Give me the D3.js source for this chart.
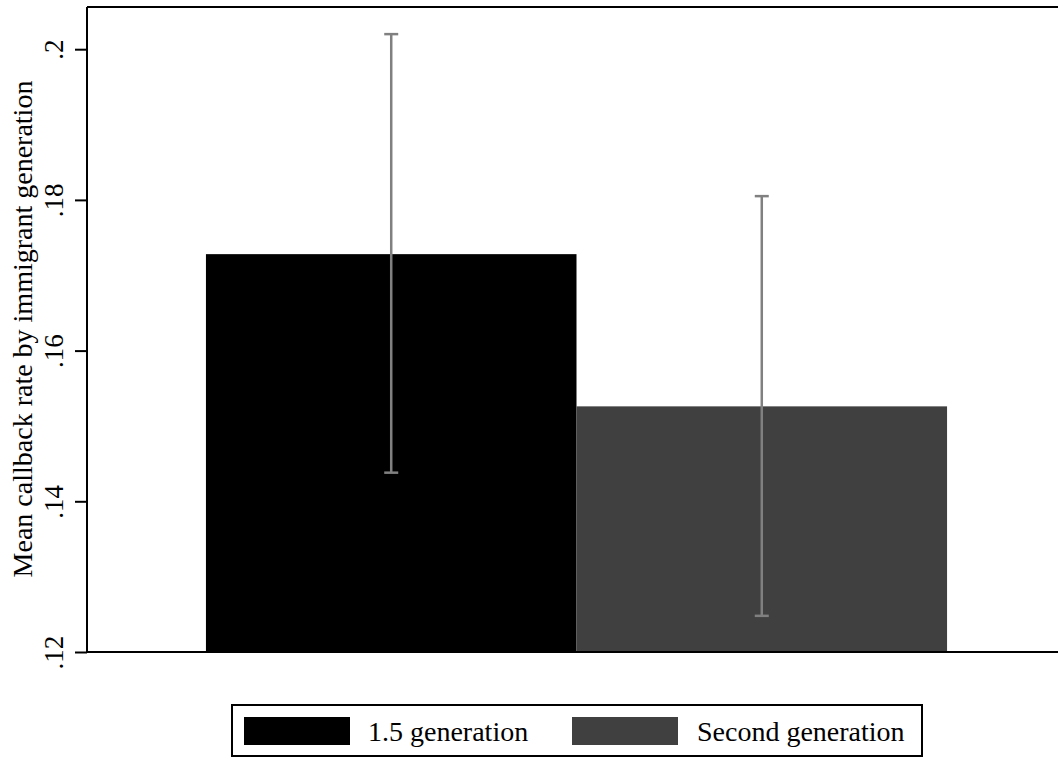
<!DOCTYPE html>
<html><head><meta charset="utf-8">
<script src="https://cdn.jsdelivr.net/npm/d3@7"></script>
<style>body{margin:0;background:#fff}svg{display:block}text{font-family:"Liberation Serif","Times New Roman",serif}</style>
</head><body>
<svg id="c" width="1058" height="758"></svg>
<script>
const categories = ["1.5 generation", "Second generation"];
const means = [0.1728, 0.1526];
const ciLow = [0.1438, 0.1248];
const ciHigh = [0.2020, 0.1805];
const colors = ["#000000", "#404040"];
const yTicks = [0.12, 0.14, 0.16, 0.18, 0.2];
const yTickLabels = [".12", ".14", ".16", ".18", ".2"];
const yLabel = "Mean callback rate by immigrant generation";

const svg = d3.select("#c");
const L = 87, R = 1066, T = 7, B = 652;
const x = d3.scaleBand().domain(categories).range([L, R]).paddingInner(0).paddingOuter(0.321);
const y = d3.scaleLinear().domain([0.12, 0.2056]).range([B, T]);

svg.selectAll("rect.bar").data(categories).join("rect")
  .attr("x", d => x(d)).attr("width", x.bandwidth())
  .attr("y", (d, i) => y(means[i])).attr("height", (d, i) => B - y(means[i]))
  .attr("fill", (d, i) => colors[i]);

// error bars
const eb = svg.append("g").attr("stroke", "#808080").attr("stroke-width", 2.5);
categories.forEach((c, i) => {
  const cx = x(c) + x.bandwidth() / 2;
  eb.append("line").attr("x1", cx).attr("x2", cx).attr("y1", y(ciLow[i])).attr("y2", y(ciHigh[i]));
  eb.append("line").attr("x1", cx - 7).attr("x2", cx + 7).attr("y1", y(ciLow[i])).attr("y2", y(ciLow[i]));
  eb.append("line").attr("x1", cx - 7).attr("x2", cx + 7).attr("y1", y(ciHigh[i])).attr("y2", y(ciHigh[i]));
});

// frame
svg.append("line").attr("x1", L).attr("x2", 1058).attr("y1", T).attr("y2", T).attr("stroke", "#000").attr("stroke-width", 2);
svg.append("line").attr("x1", L).attr("x2", 1058).attr("y1", B).attr("y2", B).attr("stroke", "#000").attr("stroke-width", 2);

// y axis
const yAxis = d3.axisLeft(y).tickValues(yTicks).tickFormat((d, i) => yTickLabels[i]).tickSize(12).tickSizeOuter(0);
const ga = svg.append("g").attr("transform", `translate(${L},0)`).call(yAxis);
ga.attr("font-family", null).attr("font-size", null);
ga.select(".domain").attr("stroke", "#000").attr("stroke-width", 2).attr("d", `M0,${T}V${B}`);
ga.selectAll(".tick line").attr("stroke", "#000").attr("stroke-width", 2);
ga.selectAll(".tick text").attr("font-size", 27).attr("fill", "#000")
  .attr("text-anchor", "middle").attr("x", 0).attr("y", 0).attr("dy", 0)
  .attr("transform", `translate(${63 - L},0) rotate(-90)`);

svg.append("text").attr("transform", `translate(32,329) rotate(-90)`)
  .attr("text-anchor", "middle").attr("font-size", 28).attr("fill", "#000").text(yLabel);

// legend
const lg = svg.append("g");
lg.append("rect").attr("x", 232).attr("y", 705).attr("width", 690).attr("height", 51)
  .attr("fill", "#fff").attr("stroke", "#000").attr("stroke-width", 2);
const keyX = [244, 572], textX = [368, 697];
categories.forEach((c, i) => {
  lg.append("rect").attr("x", keyX[i]).attr("y", 717).attr("width", 106).attr("height", 28).attr("fill", colors[i]);
  lg.append("text").attr("x", textX[i]).attr("y", 741).attr("font-size", 28).attr("fill", "#000").text(c);
});
</script>
</body></html>
